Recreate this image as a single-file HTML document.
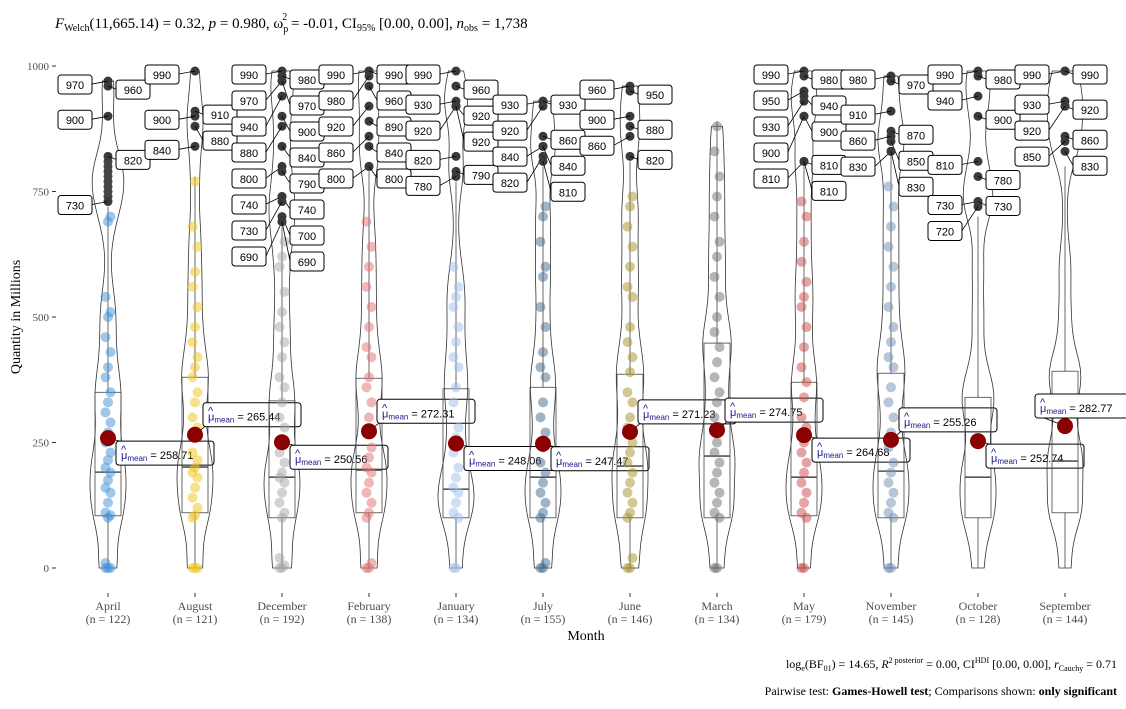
<!DOCTYPE html>
<html><head><meta charset="utf-8"><style>
body{margin:0;background:#fff;}
svg{display:block;font-family:"Liberation Serif",serif;}
.lab{font-family:"Liberation Sans",sans-serif;font-size:11px;}
</style></head><body>
<svg id="chart" width="1126" height="709">
<text x="55" y="28" font-size="15"><tspan font-style="italic">F</tspan><tspan font-size="10" dy="3">Welch</tspan><tspan dy="-3">(11,665.14) = 0.32, </tspan><tspan font-style="italic">p</tspan><tspan> = 0.980, ω</tspan><tspan font-size="10" dy="4">p</tspan><tspan font-size="10" dx="-6" dy="-12">2</tspan><tspan dy="8"> = -0.01, CI</tspan><tspan font-size="10" dy="3">95%</tspan><tspan dy="-3"> [0.00, 0.00], </tspan><tspan font-style="italic">n</tspan><tspan font-size="10" dy="3">obs</tspan><tspan dy="-3"> = 1,738</tspan></text>
<text x="0" y="0" transform="translate(20,317) rotate(-90)" text-anchor="middle" font-size="14">Quantity in Millions</text>
<text x="586" y="640" text-anchor="middle" font-size="14">Month</text>
<text x="1117" y="668" text-anchor="end" font-size="12">log<tspan font-size="8" dy="3">e</tspan><tspan dy="-3">(BF</tspan><tspan font-size="8" dy="3">01</tspan><tspan dy="-3">) = 14.65, </tspan><tspan font-style="italic">R</tspan><tspan font-size="8" dy="-5">2 posterior</tspan><tspan dy="5"> = 0.00, CI</tspan><tspan font-size="8" dy="-5">HDI</tspan><tspan dy="5"> [0.00, 0.00], </tspan><tspan font-style="italic">r</tspan><tspan font-size="8" dy="3">Cauchy</tspan><tspan dy="-3"> = 0.71</tspan></text>
<text x="1117" y="695" text-anchor="end" font-size="12">Pairwise test: <tspan font-weight="bold">Games-Howell test</tspan>; Comparisons shown: <tspan font-weight="bold">only significant</tspan></text>
<g id="plot"></g>
</svg>
<script>
const months=["April","August","December","February","January","July","June","March","May","November","October","September"];
const counts=[122,121,192,138,134,155,146,134,179,145,128,144];
const means=[258.71,265.44,250.56,272.31,248.06,247.47,271.23,274.75,264.68,255.26,252.74,282.77];
const medians=[191,201,181,195,157,181,203,223,181,193,181,213];
const q1s=[104,110,100,110,100,100,100,100,104,100,100,110];
const q3s=[350,380,333,378,357,360,386,448,370,388,340,392];
const whiskerTop=[720,780,680,790,770,800,810,890,800,820,700,800];
const colors=["#3d8fd6","#f2c318","#a6a6a6","#e07070","#9dbde8","#3f6a90","#a8912a","#6e6e6e","#cc4a4a","#6f8db4","#ffffff","#ffffff"];
const pointsApr=[0,0,0,10,100,105,110,130,150,160,175,190,200,215,230,250,270,290,310,330,350,380,400,430,460,500,510,540,690,700];
const pointsAug=[0,0,0,100,105,120,140,160,180,190,200,215,230,260,280,300,330,350,380,400,420,450,480,520,560,590,640,680,770];
const pointsDec=[0,0,5,20,100,110,130,150,170,180,190,210,230,250,280,300,330,360,380,420,450,480,510,550,600,620,650];
const pointsFeb=[0,0,10,100,110,130,150,170,190,200,220,240,270,300,330,360,380,420,440,480,520,560,600,640,690];
const pointsJan=[0,0,100,110,130,150,160,180,200,230,260,280,330,360,400,420,450,480,520,540,560,600];
const pointsJul=[0,0,10,100,110,130,150,170,190,210,240,270,300,330,380,400,430,480,520,580,600,650,700,720];
const pointsJun=[0,0,20,100,110,130,150,170,190,210,230,250,280,300,330,350,390,420,450,480,540,560,600,640,680,720,740];
const pointsMar=[0,0,100,110,130,150,170,190,210,230,250,280,300,330,350,380,410,440,470,500,540,580,620,650,700,740,780,830,880];
const pointsMay=[0,0,100,110,130,150,170,190,210,230,250,280,300,340,370,400,440,480,520,540,570,610,650,700,730];
const pointsNov=[0,0,100,110,130,150,170,190,210,240,270,300,330,360,400,420,450,480,520,560,600,640,680,720,760];
const pointsOct=[0,100,150,200,250,300,350,400,500,600];
const pointsSep=[0,110,150,200,250,300,350,400,500,600];
const pointSets=[pointsApr,pointsAug,pointsDec,pointsFeb,pointsJan,pointsJul,pointsJun,pointsMar,pointsMay,pointsNov,pointsOct,pointsSep];
const outliersApr=[970,960,900,820,730];
const outliersAug=[990,910,900,880,840];
const outliersDec=[990,980,970,970,940,900,880,840,800,790,740,740,730,700,690,690];
const outliersFeb=[990,990,980,960,920,890,860,840,800,800];
const outliersJan=[990,960,930,920,920,920,820,790,780];
const outliersJul=[930,930,920,860,840,840,820,810];
const outliersJun=[960,950,900,880,860,820];
const outliersMar=[];
const outliersMay=[990,980,950,940,930,900,900,810,810,810];
const outliersNov=[980,970,910,870,860,850,830,830];
const outliersOct=[990,980,940,900,810,780,730,730,720];
const outliersSep=[990,990,930,920,920,860,850,830];
const outlierSets=[outliersApr,outliersAug,outliersDec,outliersFeb,outliersJan,outliersJul,outliersJun,outliersMar,outliersMay,outliersNov,outliersOct,outliersSep];
const extraDarkApr=[810,800,790,780,770,760,750,740];
const yTicks=[0,250,500,750,1000];
const meanLabelAbove=[false,true,false,true,false,false,true,true,false,true,false,true];

const NS="http://www.w3.org/2000/svg";
const plot=document.getElementById('plot');
function xPos(i){return 108+i*87;}
function yPos(v){return 568-v*0.502;}
function mk(tag,attrs,parent){const e=document.createElementNS(NS,tag);for(const k in attrs)e.setAttribute(k,attrs[k]);(parent||plot).appendChild(e);return e;}

yTicks.forEach(t=>{
  const tk=mk('line',{x1:52,x2:56,y1:yPos(t),y2:yPos(t),stroke:'#333','stroke-width':1});
  
  
  const tl=mk('text',{x:49,y:yPos(t)+4,'text-anchor':'end','font-size':11,fill:'#4d4d4d'});
  tl.textContent=t;
  
  
});

months.forEach((m,i)=>{
  const x=xPos(i);
  const g=mk('g',{});
  
  
  const all=pointSets[i].concat(outlierSets[i]).concat(i===0?extraDarkApr:[]);
  all.push(q1s[i],medians[i],q3s[i],q1s[i],medians[i],q3s[i]);
  const lo=0,hi=Math.max(...all);
  const bw=45,steps=60,dens=[];
  for(let s=0;s<=steps;s++){const v=lo+(hi-lo)*s/steps;let d=0;all.forEach(p=>{d+=Math.exp(-0.5*((v-p)/bw)**2);});dens.push([v,d]);}
  const mx=Math.max(...dens.map(d=>d[1]));
  let left='',right='';
  dens.forEach(([v,d],k)=>{const w=2+16*d/mx;right+=(k?'L':'M')+(x+w)+','+yPos(v);});
  for(let k=dens.length-1;k>=0;k--){const [v,d]=dens[k];const w=2+16*d/mx;left+='L'+(x-w)+','+yPos(v);}
  const vio=mk('path',{d:right+left+'Z',fill:'none',stroke:'#333','stroke-width':0.8},g);
  
  
  const wl=mk('line',{x1:x,x2:x,y1:yPos(0),y2:yPos(q1s[i]),stroke:'#444','stroke-width':0.8},g);
  
  
  const wh=mk('line',{x1:x,x2:x,y1:yPos(q3s[i]),y2:yPos(whiskerTop[i]),stroke:'#444','stroke-width':0.8},g);
  
  
  const bx=mk('rect',{x:x-13,y:yPos(q3s[i]),width:26,height:yPos(q1s[i])-yPos(q3s[i]),fill:'none',stroke:'#444','stroke-width':0.8},g);
  
  
  const md=mk('line',{x1:x-13,x2:x+13,y1:yPos(medians[i]),y2:yPos(medians[i]),stroke:'#555','stroke-width':1.6},g);
  
  
  pointSets[i].forEach((p,k)=>{
    const c=mk('circle',{cx:x+((k%3)-1)*2.5,cy:yPos(p),r:5,fill:colors[i],'fill-opacity':colors[i]==='#ffffff'?0:0.5},g);
    
    
  });
  if(i===0){extraDarkApr.forEach(p=>{const c=mk('circle',{cx:x,cy:yPos(p),r:4.5,fill:'#444'},g);
    
    });}
  const lastY={L:-100,R:-100};
  const outs=outlierSets[i].slice().sort((a,b)=>b-a);
  outs.forEach((v,k)=>{
    const py=yPos(v);
    const c=mk('circle',{cx:x,cy:py,r:4.5,fill:'#3a3a3a'},g);
    
    
    const side=k%2===0?'L':'R';
    let ly=Math.max(py-6,lastY[side]+26,52);
    lastY[side]=ly;
    const bxX=side==='L'?x-50:x+8;
    mk('line',{x1:x,y1:py,x2:side==='L'?bxX+34:bxX,y2:ly+9,stroke:'#000','stroke-width':0.8},g);
    const r=mk('rect',{x:bxX,y:ly,width:34,height:19,rx:3,fill:'#fff',stroke:'#000','stroke-width':1},g);
    
    
    const t=mk('text',{x:bxX+17,y:ly+14,'text-anchor':'middle',class:'lab'},g);
    t.textContent=v;
    
    
  });
  const my=yPos(means[i]);
  const above=meanLabelAbove[i];
  const lx=i===11?x-30:x+8, ly=above?my-32:my+3;
  mk('line',{x1:x,y1:my,x2:lx+4,y2:above?ly+22:ly,stroke:'#000','stroke-width':0.8},g);
  const mp=mk('circle',{cx:x,cy:my,r:8,fill:'#8b0000'},g);
  
  
  const mr=mk('rect',{x:lx,y:ly,width:98,height:24,rx:3,fill:'#fff',stroke:'#000','stroke-width':1},g);
  
  
  const hat=mk('text',{x:lx+5,y:ly+12,class:'lab','font-size':9,fill:'#1a1a8c'},g);
  hat.textContent='^';
  const mt=mk('text',{x:lx+5,y:ly+18,class:'lab'},g);
  mt.innerHTML='<tspan fill="#1a1a8c">μ</tspan><tspan font-size="8" dy="2" fill="#1a1a8c">mean</tspan><tspan dy="-2"> = '+means[i].toFixed(2)+'</tspan>';
  
  
  const xt=mk('line',{x1:x,x2:x,y1:593,y2:597,stroke:'#333','stroke-width':1});
  
  
  const t1=mk('text',{x:x,y:610,'text-anchor':'middle','font-size':12,fill:'#4d4d4d'});
  t1.textContent=m;
  
  
  const t2=mk('text',{x:x,y:623,'text-anchor':'middle','font-size':12,fill:'#4d4d4d'});
  t2.textContent='(n = '+counts[i]+')';
  
  
});
</script>
</body></html>
